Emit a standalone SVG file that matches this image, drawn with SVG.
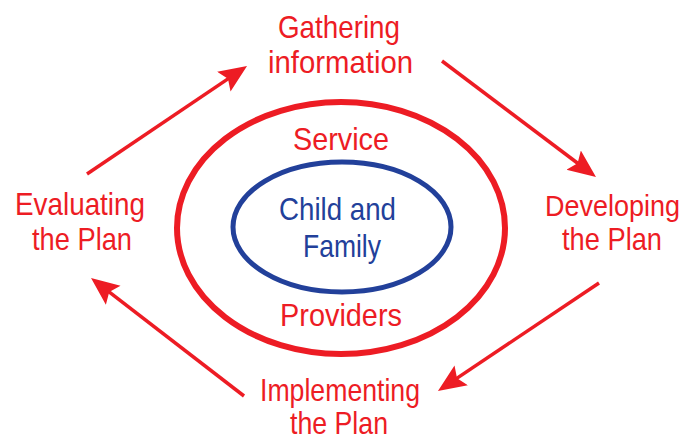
<svg xmlns="http://www.w3.org/2000/svg" width="694" height="441" viewBox="0 0 694 441">
<style>
.lbl{font-family:"Liberation Sans",Arial,sans-serif;font-size:32px;fill:#ED1C24;}
.blue{fill:#22409A;}
.conn{stroke:#ED1C24;stroke-width:3.5;fill:none;marker-end:url(#ah);}
</style>
<defs>
<marker id="ah" markerUnits="userSpaceOnUse" markerWidth="30" markerHeight="30" viewBox="0 -15 30 30" refX="13" refY="0" orient="auto">
<path d="M28,0 L0,-12 L5,0 L0,12 Z" fill="#ED1C24"/>
</marker>
</defs>
<rect width="694" height="441" fill="#fff"/>
<g id="service-providers">
<ellipse cx="341" cy="228" rx="164" ry="126" fill="none" stroke="#ED1C24" stroke-width="6"/>
<text class="lbl" x="293" y="150" textLength="96" lengthAdjust="spacingAndGlyphs">Service</text>
<text class="lbl" x="280" y="326" textLength="122" lengthAdjust="spacingAndGlyphs">Providers</text>
</g>
<g id="child-family">
<ellipse cx="342" cy="227" rx="109" ry="65" fill="none" stroke="#22409A" stroke-width="5"/>
<text class="lbl blue" x="279" y="220" textLength="117" lengthAdjust="spacingAndGlyphs">Child and</text>
<text class="lbl blue" x="303" y="257" textLength="78" lengthAdjust="spacingAndGlyphs">Family</text>
</g>
<g id="gathering">
<text class="lbl" x="278" y="38" textLength="122" lengthAdjust="spacingAndGlyphs">Gathering</text>
<text class="lbl" x="268" y="73" textLength="145" lengthAdjust="spacingAndGlyphs">information</text>
</g>
<g id="developing">
<text class="lbl" x="545" y="216" font-size="29.5" textLength="135" lengthAdjust="spacingAndGlyphs" style="font-size:29.5px">Developing</text>
<text class="lbl" x="562" y="250" textLength="100" lengthAdjust="spacingAndGlyphs">the Plan</text>
</g>
<g id="implementing">
<text class="lbl" x="260" y="401" textLength="160" lengthAdjust="spacingAndGlyphs">Implementing</text>
<text class="lbl" x="290" y="434" textLength="98" lengthAdjust="spacingAndGlyphs">the Plan</text>
</g>
<g id="evaluating">
<text class="lbl" x="15" y="215" textLength="130" lengthAdjust="spacingAndGlyphs">Evaluating</text>
<text class="lbl" x="32" y="250" textLength="100" lengthAdjust="spacingAndGlyphs">the Plan</text>
</g>
<g id="connectors">
<line class="conn" x1="87" y1="174" x2="234.6" y2="74.4"/>
<line class="conn" x1="442" y1="61" x2="584" y2="168"/>
<line class="conn" x1="599" y1="283" x2="450.4" y2="382.6"/>
<line class="conn" x1="244" y1="396" x2="102.9" y2="287.2"/>
</g>
</svg>
